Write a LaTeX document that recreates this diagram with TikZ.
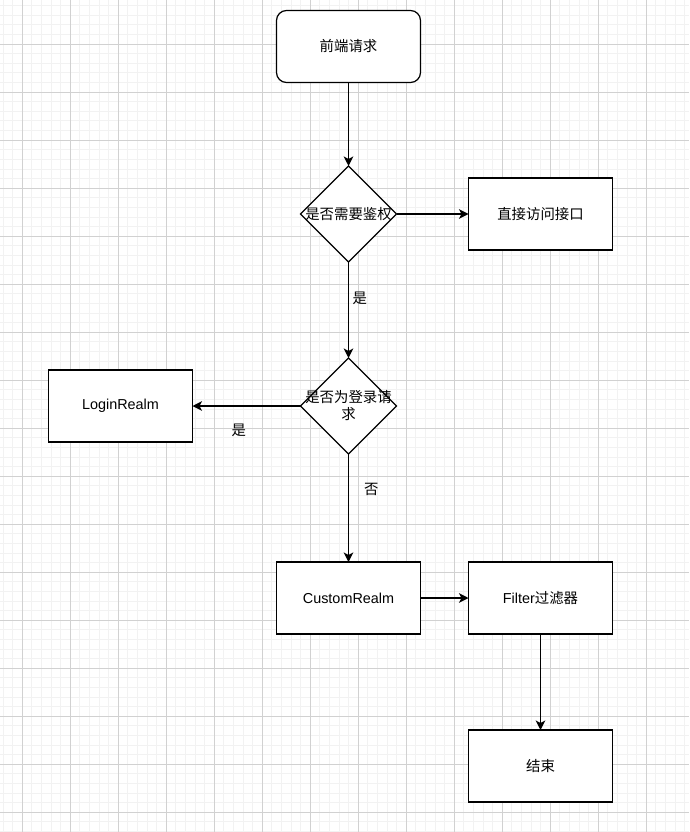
\documentclass[tikz,border=0pt]{standalone}
\usepackage{fontspec}
\setmainfont{Liberation Sans}
\newfontfamily\cjk{Noto Sans CJK SC}
\usetikzlibrary{shapes.geometric}
\usetikzlibrary{positioning}
\usetikzlibrary{arrows.meta}

\begin{document}
\begin{tikzpicture}[%
    x=1pt, y=-1pt,
    font=\fontsize{14.4}{17}\selectfont,
    basic/.style={draw,fill=white,line width=1.2pt,minimum width=144pt,minimum height=72pt,inner sep=0pt,outer sep=0pt},
    startstop/.style={basic,rounded corners=10pt},
    process/.style={basic,rectangle},
    decision/.style={draw,fill=white,line width=1.2pt,diamond,aspect=1,minimum width=96pt,minimum height=96pt,inner sep=0pt,outer sep=0pt},
    flow/.style={draw,line width=1.2pt,-{Stealth[length=9.5pt,width=9.5pt,inset=2.5pt]}},
    answer/.style={inner sep=0pt},
    minorline/.style={black!5,line width=0.6pt},
    majorline/.style={black!18,line width=0.8pt}
]
        \useasboundingbox[fill=white] (0,0) rectangle (689,832);
        % background grid
        \foreach \gx in {2.8,12.4,...,689} \draw[minorline] (\gx,0) -- (\gx,832);
        \foreach \gy in {5.6,15.2,...,832} \draw[minorline] (0,\gy) -- (689,\gy);
        \foreach \gx in {22,70,...,689} \draw[majorline] (\gx,0) -- (\gx,832);
        \foreach \gy in {44,92,...,832} \draw[majorline] (0,\gy) -- (689,\gy);

        \node[startstop] (start) at (348.5,46.5) {\cjk 前端请求};
        \node[decision, below=83.5pt of start] (auth) {};
        \node (authtext) at (auth) {\cjk 是否需要鉴权};
        \node[process, right=72pt of auth] (direct) {\cjk 直接访问接口};
        \node[decision, below=96pt of auth] (islogin) {};
        \node[align=center,inner sep=0pt] (islogintext) at (islogin) {\cjk 是否为登录请\\\cjk 求};
        \node[process, left=108pt of islogin] (loginrealm) {LoginRealm};
        \node[process, below=108pt of islogin] (custom) {CustomRealm};
        \node[process, right=48pt of custom] (filter) {Filter{\cjk 过滤器}};
        \node[process, below=96pt of filter] (finish) {\cjk 结束};

        \path[flow] (start) -- (auth);
        \path[flow] (auth) -- (direct);
        \path[flow] (auth) -- node[answer,pos=0.375,right=3.5pt]{\cjk 是} (islogin);
        \path[flow] (islogin) -- node[answer,pos=0.57,below=17pt]{\cjk 是} (loginrealm);
        \path[flow] (islogin) -- node[answer,pos=0.33,right=15pt]{\cjk 否} (custom);
        \path[flow] (custom) -- (filter);
        \path[flow] (filter) -- (finish);
\end{tikzpicture}
\end{document}
